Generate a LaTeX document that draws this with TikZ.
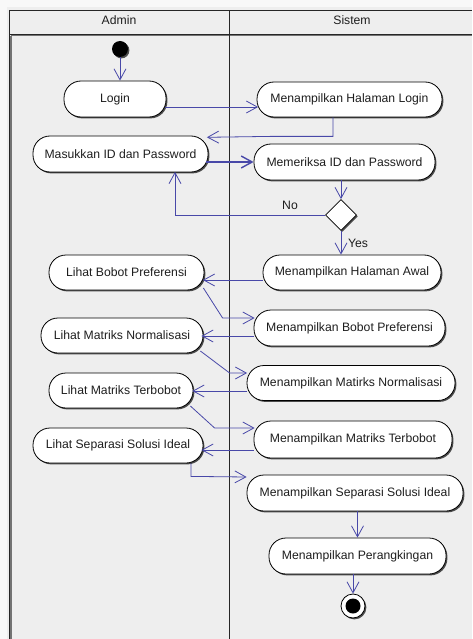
\documentclass[tikz,border=0pt]{standalone}
\usepackage{fontspec}
\setmainfont{Liberation Sans}
\usetikzlibrary{arrows.meta,shapes.geometric,shadows,calc}

\definecolor{flow}{RGB}{72,72,168}
\definecolor{lanebg}{RGB}{238,238,238}
\definecolor{outside}{RGB}{248,248,248}
\definecolor{ink}{RGB}{30,30,30}

\tikzset{
  shade/.style={drop shadow={shadow xshift=1.4pt,shadow yshift=-1.4pt,fill=black!70,opacity=1}},
  act/.style 2 args={draw=black, line width=0.8pt, fill=white, rectangle,
    rounded corners=17pt, minimum width=#1, minimum height=#2, inner sep=0pt,
    text=ink, shade},
  flowline/.style={draw=flow, line width=0.8pt, -{Straight Barb[length=11pt,width=12pt]}},
  lanetitle/.style={text=ink},
  guard/.style={text=ink, inner sep=0pt},
}

\begin{document}
\begin{tikzpicture}[x=1pt,y=-1pt,font=\fontsize{12.2}{14}\selectfont]
\useasboundingbox (0,0) rectangle (472,639);
\clip (0,0) rectangle (472,639);

% swimlane frame
\fill[outside] (0,0) rectangle (472,639);
\fill[lanebg] (7,7) rectangle (472,639);
\draw[black!55, line width=1.6pt] (11,36) -- (11,639);
\draw[black!55, line width=1.6pt] (11,35.5) -- (472,35.5);
\draw[black!85, line width=0.9pt] (9.5,639) -- (9.5,10.5) -- (472,10.5);
\draw[black!85, line width=0.9pt] (9.5,34.5) -- (472,34.5);
\draw[black!85, line width=0.9pt] (229.5,10.5) -- (229.5,639);

\node[lanetitle] (hadmin) at (119,20) {Admin};
\node[lanetitle] (hsistem) at (352,20) {Sistem};

% start / end
\node[circle, fill=black, minimum size=16pt, inner sep=0pt, shade] (start) at (120,49) {};

% activities
\node[act={102pt}{36pt}] (login) at (115,99) {Login};
\node[act={185pt}{35pt}] (mhl) at (349.5,99.5) {Menampilkan Halaman Login};
\node[act={175pt}{36pt}] (mip) at (120.5,154) {Masukkan ID dan Password};
\node[act={181pt}{36pt}] (mep) at (344.5,162) {Memeriksa ID dan Password};
\node[diamond, draw=black, line width=0.8pt, fill=white, minimum width=31pt,
      minimum height=31pt, inner sep=0pt, shade] (dec) at (341,215) {};
\node[act={178pt}{35pt}] (mha) at (352,272.5) {Menampilkan Halaman Awal};
\node[act={155pt}{35pt}] (lbp) at (126.5,272.5) {Lihat Bobot Preferensi};
\node[act={191pt}{36pt}] (mbp) at (349.5,328) {Menampilkan Bobot Preferensi};
\node[act={162pt}{35pt}] (lmn) at (122,335.5) {Lihat Matriks Normalisasi};
\node[act={208pt}{35pt}] (mmn) at (351,383) {Menampilkan Matirks Normalisasi};
\node[act={144pt}{35pt}] (lmt) at (121,390.5) {Lihat Matriks Terbobot};
\node[act={198pt}{37pt}] (mmt) at (353,439.5) {Menampilkan Matriks Terbobot};
\node[act={170pt}{35pt}] (lssi) at (118,445.5) {Lihat Separasi Solusi Ideal};
\node[act={216pt}{36pt}] (mssi) at (355,493) {Menampilkan Separasi Solusi Ideal};
\node[act={177pt}{36pt}] (mp) at (357.5,556) {Menampilkan Perangkingan};

\node[circle, draw=black, line width=0.8pt, fill=white, minimum size=24pt,
      inner sep=0pt, shade] (fin) at (353,606) {};
\fill[black] (fin.center) circle (7.5pt);

% control flow
\draw[flowline] (start) -- (start |- login.north);
\draw[flowline] ($(login.east)+(-1,8)$) -- ($(mhl.west)+(1.5,7.5)$);
\draw[flowline] ($(mhl.south)+(-16.5,0)$) -- ++(0,19) -- ++(-63,0)
                -- ($(mip.north east)+(-1.5,1.7)$);
\draw[flowline, line width=1.4pt] ($(mip.east)+(-2,8)$) -- (mep.west);
\draw[flowline] (dec.north |- mep.south) -- (dec.north);
\draw[flowline] (dec.west) -| ($(mip.south)+(54.5,-0.5)$);
\node[guard] (lblno) at (290,205) {No};
\draw[flowline] (dec.south) -- (dec.south |- mha.north);
\node[guard] (lblyes) at (358,243) {Yes};

\draw[flowline] ($(mha.west)+(0,7.5)$) -- ($(lbp.east)+(-1.5,7.5)$);
\draw[flowline] ($(lbp.east)+(-1,15.5)$) -- ($(mbp.west)+(-31,-10)$) -- ($(mbp.west)+(1,-10)$);
\draw[flowline] ($(mbp.west)+(0,8)$) -- ($(lmn.east)+(-2,0.5)$);
\draw[flowline] ($(lmn.east)+(-3,15.5)$) -- ($(mmn.west)+(-17,-10)$) -- ($(mmn.west)+(0.5,-10)$);
\draw[flowline] ($(mmn.west)+(0,8)$) -- ($(lmt.east)+(-1,0.5)$);
\draw[flowline] ($(lmt.east)+(-3,15.5)$) -- ($(mmt.west)+(-39,-11.5)$) -- ($(mmt.west)+(1,-11.5)$);
\draw[flowline] ($(mmt.west)+(0,10.5)$) -- ($(lssi.east)+(-2,4.5)$);
\draw[flowline] ($(lssi.south)+(73,0)$) -- ++(0,13) -- ($(mssi.west)+(0,-16)$);
\draw[flowline] (mssi.south -| mp.north) -- (mp.north);
\draw[flowline] (mp.south -| fin.north) -- (fin.north);
\end{tikzpicture}
\end{document}
